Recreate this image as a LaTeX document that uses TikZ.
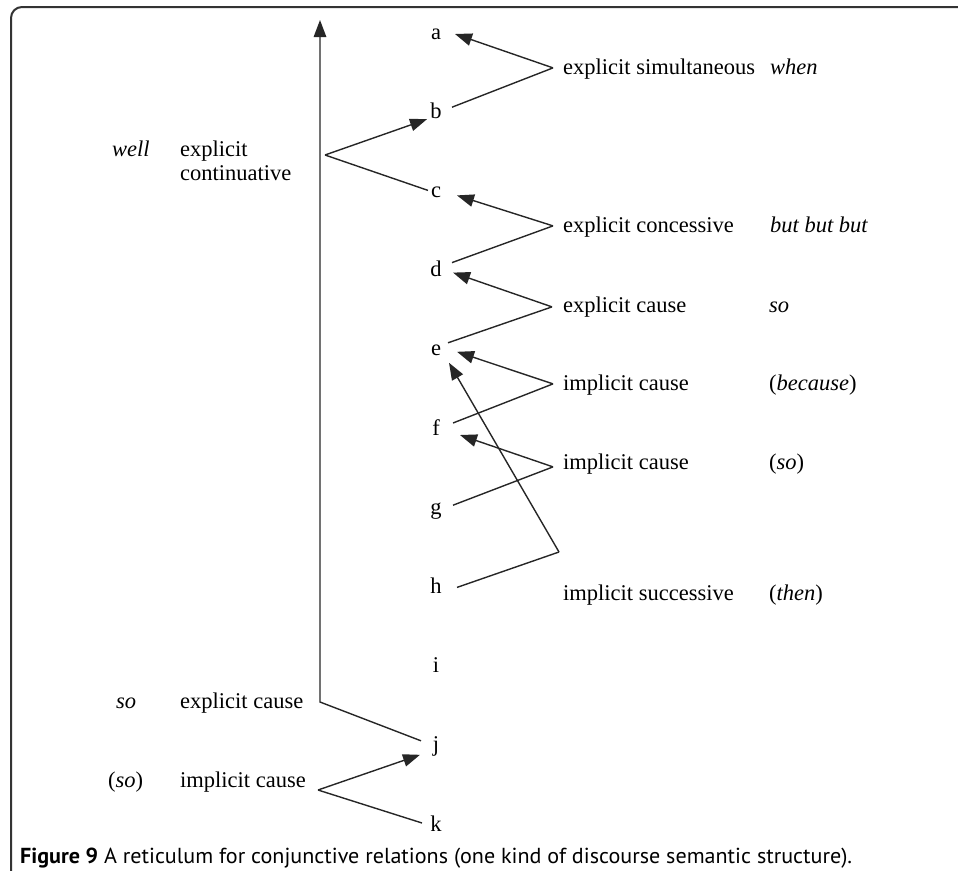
\documentclass[tikz,border=0pt]{standalone}
\usepackage{fontspec}
\usepackage{graphicx}
\setmainfont{Liberation Serif}
\newfontfamily\capfont{PT Sans}
\usetikzlibrary{arrows.meta,calc}

\begin{document}
\begin{tikzpicture}[x=1pt,y=-1pt,
  every node/.style={inner sep=0pt,font=\fontsize{22.5}{27}\selectfont},
  letter/.style={anchor=base},
  rel/.style={anchor=mid west},
  link/.style={line width=1.4pt,draw=black!85},
  arr/.style={link,-{Triangle[length=17pt,width=12.5pt]}},
  frame/.style={line width=2pt,draw=black!80,rounded corners=11pt}]

\useasboundingbox (0,0) rectangle (958,870);

% outer frame (top and left edges)
\draw[frame] (11,875) -- (11,7) -- (965,7);

% the letters down the middle
\foreach \n [count=\k from 0] in {a,b,c,d,e,f,g,h,i,j,k}
  \node[letter] (\n) at (436,{39+79.2*\k}) {\n};

% relation labels, right column
\node[rel] (r1) at (563,72) {explicit simultaneous};
\node[rel] (r2) at (563,230) {explicit concessive};
\node[rel] (r3) at (563,310) {explicit cause};
\node[rel] (r4) at (563,388) {implicit cause};
\node[rel] (r5) at (563,467) {implicit cause};
\node[rel] (r6) at (563,598) {implicit successive};

\node[rel] (w1) at (770,72) {\textit{when}};
\node[rel] (w2) at (770,230) {\textit{but but but}};
\node[rel] (w3) at (769,310) {\textit{so}};
\node[rel] (w4) at (769,388) {(\textit{because})};
\node[rel] (w5) at (769,467) {(\textit{so})};
\node[rel] (w6) at (769,598) {(\textit{then})};

% relation labels, left column
\node[rel] (l1a) at (180,154) {explicit};
\node[rel] (l1b) at (180,178) {continuative};
\node[rel] (l2) at (180,706) {explicit cause};
\node[rel] (l3) at (180,785) {implicit cause};
\node[rel] (m1) at (112,154) {\textit{well}};
\node[rel] (m2) at (116,706) {\textit{so}};
\node[rel] (m3) at (108,785) {(\textit{so})};

% meeting points of each pair of links
\coordinate (s1) at ($(r1.west)+(-10,-1)$);
\coordinate (s2) at ($(r2.west)+(-10,-1)$);
\coordinate (s3) at ($(r3.west)+(-11,0)$);
\coordinate (s4) at ($(r4.west)+(-10,-1)$);
\coordinate (s5) at ($(r5.west)+(-10,3)$);
\coordinate (s6) at (559,552);
\coordinate (s7) at (318,790);
\coordinate (sw) at (325,155);
\coordinate (vbot) at (320,702);
\coordinate (vtop) at (320,20);

% end points beside the letters
\coordinate (a-r) at ($(a.base)+(19,-5)$);
\coordinate (b-r) at ($(b.base)+(16,-11)$);
\coordinate (b-l) at ($(b.base)+(-9,1)$);
\coordinate (c-r) at ($(c.base)+(21,-2)$);
\coordinate (c-l) at ($(c.base)+(-8,-7)$);
\coordinate (d-r) at ($(d.base)+(16,-14)$);
\coordinate (d-a) at ($(d.base)+(17,-4)$);
\coordinate (e-r) at ($(e.base)+(12,-13)$);
\coordinate (e-a) at ($(e.base)+(21,-4)$);
\coordinate (e-b) at ($(e.base)+(13,7)$);
\coordinate (f-r) at ($(f.base)+(17,-12)$);
\coordinate (f-a) at ($(f.base)+(24,0)$);
\coordinate (g-r) at ($(g.base)+(17,-9)$);
\coordinate (h-r) at ($(h.base)+(21,-6)$);
\coordinate (j-l) at ($(j.base)+(-15,-11)$);
\coordinate (j-m) at ($(j.base)+(-16,3)$);
\coordinate (k-l) at ($(k.base)+(-14,-8)$);

% explicit continuative: long arrow up the left
\draw[arr] (j-l) -- (vbot) -- (vtop);
\draw[arr] (sw) -- (b-l);
\draw[link] (sw) -- (c-l);

% right-hand relations
\draw[arr] (s1) -- (a-r);
\draw[link] (b-r) -- (s1);
\draw[arr] (s2) -- (c-r);
\draw[link] (d-r) -- (s2);
\draw[arr] (s3) -- (d-a);
\draw[link] (e-r) -- (s3);
\draw[arr] (s4) -- (e-a);
\draw[link] (f-r) -- (s4);
\draw[arr] (s5) -- (f-a);
\draw[link] (g-r) -- (s5);
\draw[arr] (s6) -- (e-b);
\draw[link] (h-r) -- (s6);

% implicit cause at the bottom
\draw[arr] (s7) -- (j-m);
\draw[link] (s7) -- (k-l);

% caption
\node[anchor=base west] (cap) at (20,863)
  {\resizebox{832pt}{15.5pt}{\capfont\fontsize{22}{26}\selectfont\textbf{Figure 9} A reticulum for conjunctive relations (one kind of discourse semantic structure).}};
\end{tikzpicture}
\end{document}
